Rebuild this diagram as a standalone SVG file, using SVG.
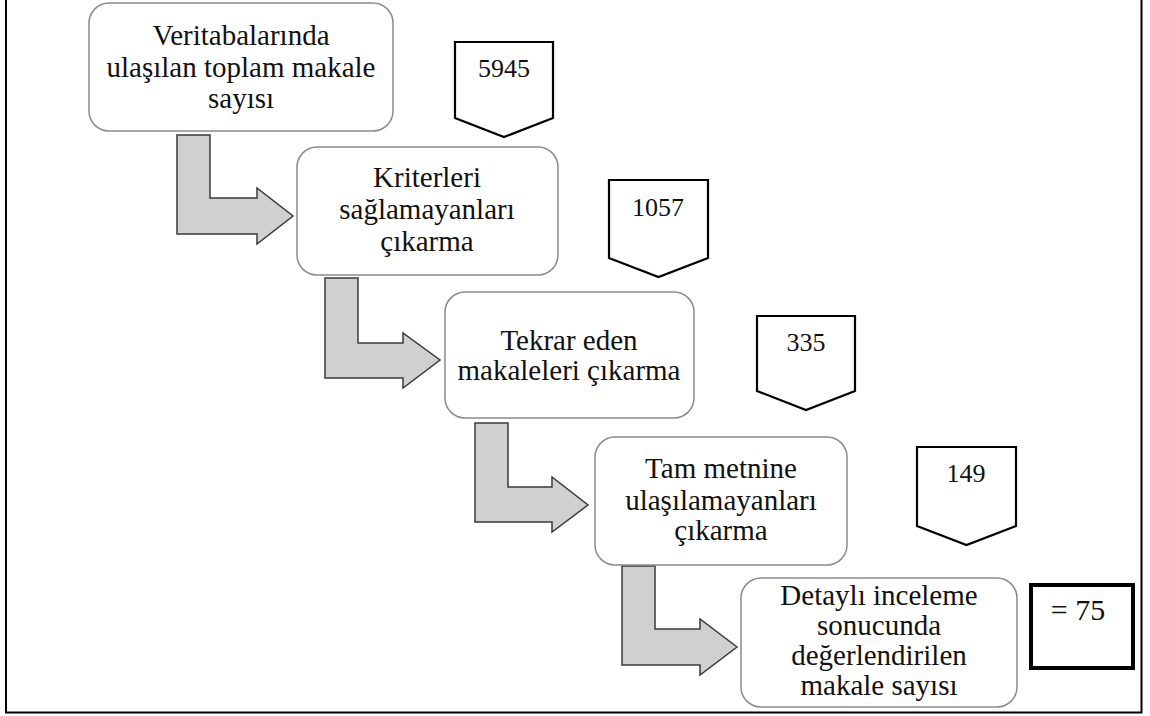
<svg xmlns="http://www.w3.org/2000/svg" width="1150" height="716" viewBox="0 0 1150 716">
<style>
.box{fill:#fff;stroke:#8a8a8a;stroke-width:1.5}
.pent{fill:#fff;stroke:#000;stroke-width:2.2;stroke-linejoin:miter}
.arr{fill:#d0d0d0;stroke:#3a3a3a;stroke-width:1.5;stroke-linejoin:miter}
.t{font-family:"Liberation Serif","Times New Roman",serif;font-size:29px;fill:#111;text-anchor:middle}
.n{font-family:"Liberation Serif","Times New Roman",serif;font-size:26px;fill:#111;text-anchor:middle}
</style>
<rect x="0" y="0" width="1150" height="716" fill="#fff"/>
<rect id="frame" x="6" y="-10" width="1135.5" height="722.5" fill="none" stroke="#000" stroke-width="2"/>
<g id="connectors">
<polygon class="arr" points="177,135 210,135 210,198 257,198 257,188 293,216 257,244 257,234 177,234"/>
<polygon class="arr" points="325,278 358,278 358,343 403,343 403,333 440,360 403,388 403,378 325,378"/>
<polygon class="arr" points="475,423 508,423 508,487 552,487 552,477 588,505 552,532 552,522 475,522"/>
<polygon class="arr" points="622,566 655,566 655,629 700,629 700,619 737,647 700,675 700,665 622,665"/>
</g>
<g id="n1"><rect class="box" x="89" y="3" width="304" height="128" rx="20"/>
<text class="t" x="241" y="45">Veritabalarında</text><text class="t" x="241" y="77">ulaşılan toplam makale</text><text class="t" x="241" y="108">sayısı</text></g>
<g id="p1"><polygon class="pent" points="455,42 553,42 553,118 504,137 455,118"/><text class="n" x="504" y="77">5945</text></g>
<g id="n2"><rect class="box" x="297" y="147" width="261" height="128" rx="20"/>
<text class="t" x="427" y="187">Kriterleri</text><text class="t" x="427" y="219">sağlamayanları</text><text class="t" x="427" y="251">çıkarma</text></g>
<g id="p2"><polygon class="pent" points="609,180 708,180 708,258 658.5,277 609,258"/><text class="n" x="658" y="216">1057</text></g>
<g id="n3"><rect class="box" x="445" y="292" width="249" height="126" rx="20"/>
<text class="t" x="569" y="350">Tekrar eden</text><text class="t" x="569" y="380">makaleleri çıkarma</text></g>
<g id="p3"><polygon class="pent" points="757,316 855,316 855,391 806,410 757,391"/><text class="n" x="806" y="351">335</text></g>
<g id="n4"><rect class="box" x="595" y="437" width="252" height="128" rx="20"/>
<text class="t" x="721" y="478">Tam metnine</text><text class="t" x="721" y="510">ulaşılamayanları</text><text class="t" x="721" y="540">çıkarma</text></g>
<g id="p4"><polygon class="pent" points="917,447 1016,447 1016,526 966.5,545 917,526"/><text class="n" x="966" y="482">149</text></g>
<g id="n5"><rect class="box" x="741" y="578" width="276" height="129" rx="20"/>
<text class="t" x="879" y="605">Detaylı inceleme</text><text class="t" x="879" y="635">sonucunda</text><text class="t" x="879" y="665">değerlendirilen</text><text class="t" x="879" y="695">makale sayısı</text></g>
<g id="r1"><rect x="1031" y="585" width="102" height="83" fill="#fff" stroke="#000" stroke-width="4"/><text class="t" x="1078" y="620" style="font-size:30px">= 75</text></g>
</svg>
